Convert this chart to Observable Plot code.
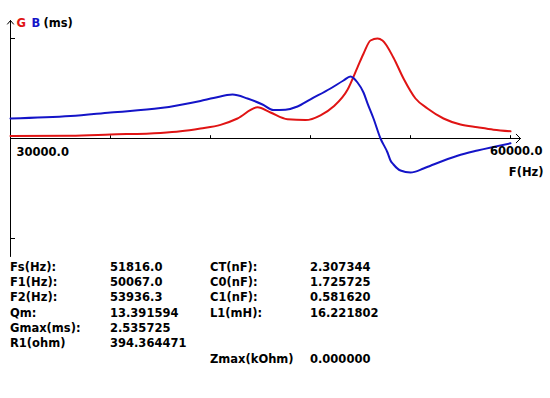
<!DOCTYPE html>
<html>
<head>
<meta charset="utf-8">
<script src="https://cdn.jsdelivr.net/npm/d3@7"></script>
<script src="https://cdn.jsdelivr.net/npm/@observablehq/plot@0.6"></script>
<style>
  html, body { margin: 0; padding: 0; background: #fff; }
  #wrap { width: 550px; height: 398px; position: relative; font-family: "DejaVu Sans", sans-serif; font-weight: bold; font-size: 11.5px; color: #000; }
  .tbl { position: relative; line-height: 15.2px; padding-top: 2px; }
  .row { position: relative; height: 15.2px; white-space: nowrap; }
  .row span { position: absolute; top: 0; }
</style>
</head>
<body>
<div id="wrap"></div>
<script>
// Frequency sweep (Hz)
const redFreq = [30000, 33600, 36000, 39000, 40200, 41400, 42600, 43620, 44820, 45600, 46620, 47700, 48600, 49380, 50220, 50820, 51180, 51600, 52020, 52320, 52980, 53580, 54300, 55020, 55980, 57000, 58020, 58980, 60000];
// Conductance G (ms)
const redG = [0.06, 0.07, 0.10, 0.14, 0.18, 0.25, 0.34, 0.50, 0.78, 0.65, 0.48, 0.46, 0.58, 0.80, 1.22, 1.78, 2.12, 2.45, 2.50, 2.45, 2.02, 1.50, 1.00, 0.75, 0.50, 0.35, 0.28, 0.22, 0.18];

const blueFreq = [30000, 33600, 36000, 39000, 41400, 42180, 43320, 44220, 45120, 45780, 46500, 47220, 48000, 49200, 49980, 50400, 50820, 51180, 51420, 51780, 52200, 52620, 52800, 52980, 53400, 54000, 54780, 55200, 56820, 58020, 60000];
// Susceptance B (ms)
const blueB = [0.50, 0.56, 0.65, 0.76, 0.94, 1.01, 1.10, 1.00, 0.85, 0.71, 0.72, 0.80, 0.98, 1.25, 1.45, 1.55, 1.40, 1.15, 0.88, 0.50, 0.00, -0.35, -0.55, -0.65, -0.80, -0.85, -0.75, -0.68, -0.43, -0.30, -0.12];

const xDomain = [30000, 60000];
const yDomain = [-2.95, 2.95];
const xAxisEnd = 60600;
const xTicks = [36000, 42000, 48000, 54000, 60000];
const yTicks = [2.5, -2.5];
const xLabelLeft = "30000.0";
const xLabelRight = "60000.0";
const xTitle = "F(Hz)";
const yTitleParts = ["G", "B", "(ms)"];

const tableLeftLabels = ["Fs(Hz):", "F1(Hz):", "F2(Hz):", "Qm:", "Gmax(ms):", "R1(ohm)", ""];
const tableLeftValues = ["51816.0", "50067.0", "53936.3", "13.391594", "2.535725", "394.364471", ""];
const tableRightLabels = ["CT(nF):", "C0(nF):", "C1(nF):", "L1(mH):", "", "", "Zmax(kOhm)"];
const tableRightValues = ["2.307344", "1.725725", "0.581620", "16.221802", "", "", "0.000000"];

const RED = "#e01414";
const BLUE = "#1414c8";

const red = redFreq.map((f, i) => ({f, v: redG[i]}));
const blue = blueFreq.map((f, i) => ({f, v: blueB[i]}));

const font = {fontFamily: "DejaVu Sans", fontWeight: "bold", fontSize: 11.5};

const chart = Plot.plot({
  width: 550,
  height: 258,
  marginLeft: 10,
  marginRight: 40,
  marginTop: 20,
  marginBottom: 2,
  x: {domain: xDomain, axis: null},
  y: {domain: yDomain, axis: null},
  style: {background: "#fff", fontFamily: "DejaVu Sans", fontWeight: "bold", fontSize: "11.5px", overflow: "visible"},
  marks: [
    // axes
    Plot.arrow([0], {x1: xDomain[0], x2: xAxisEnd, y1: 0, y2: 0, stroke: "#000", strokeWidth: 1, headLength: 9, headAngle: 90}),
    Plot.arrow([0], {x1: xDomain[0], x2: xDomain[0], y1: yDomain[0], y2: yDomain[1], stroke: "#000", strokeWidth: 1, headLength: 7, headAngle: 80}),
    Plot.ruleX(xTicks, {x: d => d, y1: 0, y2: 0.07, stroke: "#000"}),
    Plot.ruleY(yTicks, {y: d => d, x1: xDomain[0], x2: xDomain[0] + 300, stroke: "#000"}),
    // curves
    Plot.line(red, {x: "f", y: "v", stroke: RED, strokeWidth: 2, curve: "monotone-x"}),
    Plot.line(blue, {x: "f", y: "v", stroke: BLUE, strokeWidth: 2, curve: "monotone-x"}),
    // labels
    Plot.text([xLabelLeft], {x: xDomain[0], y: 0, text: d => d, dx: 6, dy: 14, textAnchor: "start", lineAnchor: "middle", fill: "#000", ...font}),
    Plot.text([xLabelRight], {x: xDomain[1], y: 0, text: d => d, dx: 32, dy: 13, textAnchor: "end", lineAnchor: "middle", fill: "#000", ...font}),
    Plot.text([xTitle], {x: xDomain[1], y: 0, text: d => d, dx: 33, dy: 34, textAnchor: "end", lineAnchor: "middle", fill: "#000", ...font}),
    Plot.text([yTitleParts[0]], {frameAnchor: "top-left", text: d => d, dx: 6, dy: 3, textAnchor: "start", lineAnchor: "middle", fill: RED, ...font}),
    Plot.text([yTitleParts[1]], {frameAnchor: "top-left", text: d => d, dx: 21, dy: 3, textAnchor: "start", lineAnchor: "middle", fill: BLUE, ...font}),
    Plot.text([yTitleParts[2]], {frameAnchor: "top-left", text: d => d, dx: 33, dy: 3, textAnchor: "start", lineAnchor: "middle", fill: "#000", ...font})
  ]
});

const wrap = document.getElementById("wrap");
wrap.appendChild(chart);

const tbl = document.createElement("div");
tbl.className = "tbl";
tableLeftLabels.forEach((lab, i) => {
  const row = document.createElement("div");
  row.className = "row";
  if (i === 6) row.style.marginTop = "1px";
  const cols = [[lab, 10], [tableLeftValues[i], 110], [tableRightLabels[i], 210], [tableRightValues[i], 310]];
  cols.forEach(([t, x]) => {
    const s = document.createElement("span");
    s.textContent = t;
    s.style.left = x + "px";
    row.appendChild(s);
  });
  tbl.appendChild(row);
});
wrap.appendChild(tbl);
</script>
</body>
</html>
